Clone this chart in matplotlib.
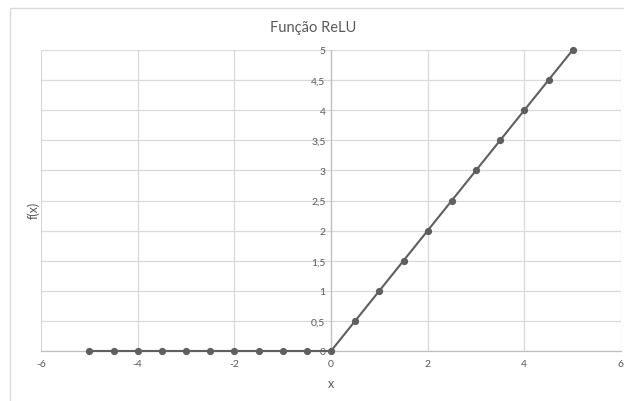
import matplotlib.pyplot as plt
from matplotlib.patches import Rectangle
from matplotlib.ticker import FuncFormatter
import numpy as np

plt.rcParams['font.family'] = ['Lato', 'DejaVu Sans']

# ReLU sampled every 0.5 on [-5, 5]
x_vals = [-5, -4.5, -4, -3.5, -3, -2.5, -2, -1.5, -1, -0.5,
          0, 0.5, 1, 1.5, 2, 2.5, 3, 3.5, 4, 4.5, 5]
y_vals = [0, 0, 0, 0, 0, 0, 0, 0, 0, 0,
          0, 0.5, 1, 1.5, 2, 2.5, 3, 3.5, 4, 4.5, 5]
x_ticks = [-6, -4, -2, 0, 2, 4, 6]
y_ticks = [0, 0.5, 1, 1.5, 2, 2.5, 3, 3.5, 4, 4.5, 5]

grid_c = '#d9d9d9'
text_c = '#595959'
line_c = '#5f5f5f'

fig = plt.figure(figsize=(6.24, 4.02), dpi=100)
# chart area border
fig.patches.append(Rectangle((10 / 624, -0.01), 1.0, 1 - 9 / 402 + 0.01,
                             transform=fig.transFigure, fill=False,
                             edgecolor=grid_c, lw=1.0))

ax = fig.add_axes([41 / 624, 1 - 352 / 402, 580 / 624, 301 / 402])
ax.set_xlim(-6, 6)
ax.set_ylim(0, 5)

ax.plot(x_vals, y_vals, color=line_c, lw=1.5, marker='o', ms=4.2,
        markerfacecolor=line_c, markeredgecolor=line_c, zorder=3, clip_on=False)

ax.set_xticks(x_ticks)
ax.set_yticks(y_ticks)

def comma(v, pos):
    s = ('%g' % v).replace('.', ',')
    return s

ax.xaxis.set_major_formatter(FuncFormatter(comma))
ax.yaxis.set_major_formatter(FuncFormatter(comma))
ax.tick_params(axis='both', length=0, labelsize=7.5, labelcolor=text_c)
ax.tick_params(axis='x', pad=6)
ax.tick_params(axis='y', pad=4)

ax.grid(True, color=grid_c, lw=0.9)
ax.set_axisbelow(True)

for side in ['top', 'right']:
    ax.spines[side].set_visible(False)
ax.spines['left'].set_position(('data', 0))
ax.spines['left'].set_color('#bfbfbf')
ax.spines['left'].set_linewidth(0.9)
ax.spines['bottom'].set_color('#bfbfbf')
ax.spines['bottom'].set_linewidth(0.9)

fig.text(313 / 624, 1 - 28 / 402, 'Função ReLU', ha='center', va='center',
         fontsize=10.5, color=text_c)
fig.text(331 / 624, 1 - 384 / 402, 'x', ha='center', va='center',
         fontsize=9, color=text_c)
fig.text(33 / 624, 1 - 210 / 402, 'f(x)', ha='center', va='center',
         rotation=90, fontsize=9, color=text_c)

fig.savefig('out.png', dpi=100)
